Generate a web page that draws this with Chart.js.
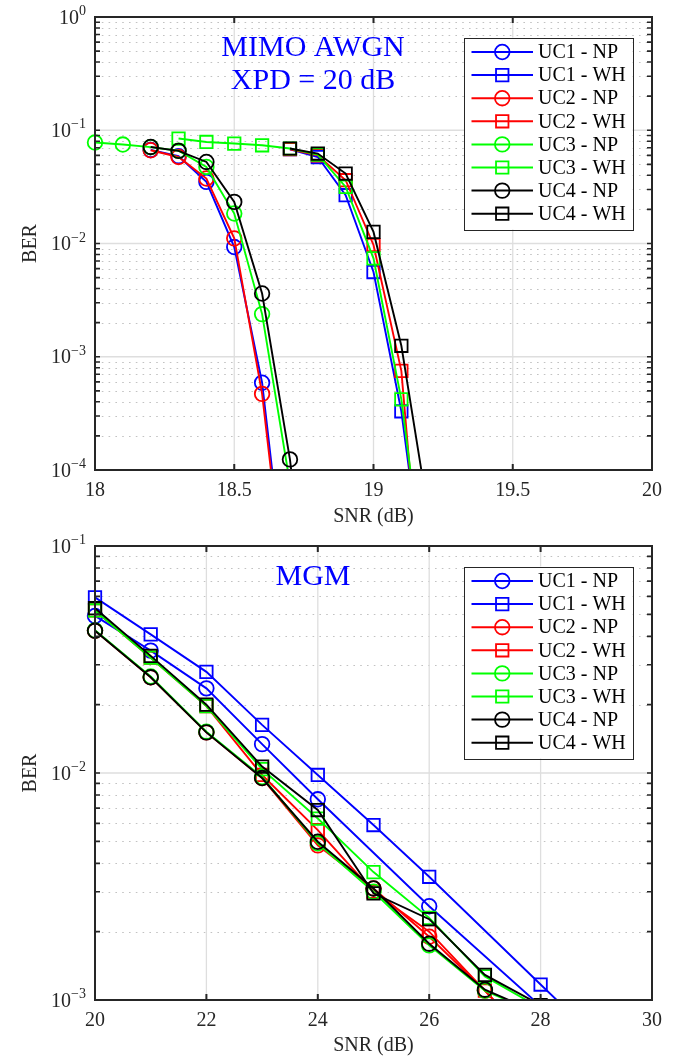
<!DOCTYPE html>
<html>
<head>
<meta charset="utf-8">
<title>BER vs SNR</title>
<script src="https://cdn.jsdelivr.net/npm/chart.js@4.4.1/dist/chart.umd.min.js"></script>
<style>
  html, body { margin: 0; padding: 0; background: #ffffff; }
  #wrap { position: relative; width: 686px; height: 1059px; overflow: hidden; }
  .panel { position: absolute; left: 0; width: 686px; }
  canvas { display: block; }
</style>
</head>
<body>
<div id="wrap">
  <div class="panel" style="top:0;height:530px"><canvas id="awgn" width="686" height="530"></canvas></div>
  <div class="panel" style="top:530px;height:529px"><canvas id="mgm" width="686" height="529"></canvas></div>
</div>
<script>
// ---------- series description ----------
const seriesNames   = ['UC1 - NP', 'UC1 - WH', 'UC2 - NP', 'UC2 - WH', 'UC3 - NP', 'UC3 - WH', 'UC4 - NP', 'UC4 - WH'];
const seriesColors  = ['#0000ff', '#0000ff', '#ff0000', '#ff0000', '#00ff00', '#00ff00', '#000000', '#000000'];
const seriesMarkers = ['circle', 'rect', 'circle', 'rect', 'circle', 'rect', 'circle', 'rect'];

// ---------- MIMO AWGN, XPD = 20 dB ----------
const snrAwgn = [18.0, 18.1, 18.2, 18.3, 18.4, 18.5, 18.6, 18.7, 18.8, 18.9, 19.0, 19.1, 19.2];
const uc1NpAwgn = [null, null, 0.067, 0.059, 0.035, 0.0093, 0.00059, 4.3e-6, null, null, null, null, null];
const uc1WhAwgn = [null, null, null, null, null, null, null, 0.068, 0.058, 0.0267, 0.0056, 0.00033, 4.5e-6];
const uc2NpAwgn = [null, null, 0.0666, 0.0581, 0.0375, 0.0111, 0.00047, 3.5e-6, null, null, null, null, null];
const uc2WhAwgn = [null, null, null, null, null, null, null, 0.068, 0.060, 0.0362, 0.0097, 0.00075, 1e-6];
const uc3NpAwgn = [0.0779, 0.0748, 0.071, 0.066, 0.0474, 0.0184, 0.00238, 7.6e-5, null, null, null, null, null];
const uc3WhAwgn = [null, null, null, 0.0845, 0.0788, 0.0763, 0.0737, 0.069, 0.061, 0.0316, 0.0074, 0.00042, 5e-6];
const uc4NpAwgn = [null, null, 0.0712, 0.0657, 0.0525, 0.0233, 0.00362, 0.000124, 1e-6, null, null, null, null];
const uc4WhAwgn = [null, null, null, null, null, null, null, 0.069, 0.0623, 0.0415, 0.01265, 0.00125, 3.7e-5];
const snrTicksAwgn = [18, 18.5, 19, 19.5, 20];
const berDecadesAwgn = [1e-4, 1e-3, 1e-2, 1e-1, 1];

// ---------- MGM ----------
const snrMgm = [20, 21, 22, 23, 24, 25, 26, 27, 28, 29];
const uc1NpMgm = [0.0492, 0.0346, 0.0236, 0.0134, 0.00766, null, 0.00259, null, 0.00094, null];
const uc1WhMgm = [0.0594, 0.0408, 0.0279, 0.0163, 0.0098, 0.0059, 0.00349, null, 0.00117, 0.00068];
const uc2NpMgm = [0.0423, 0.0264, 0.0151, 0.0095, 0.0048, 0.0031, 0.0019, 0.0011, 0.0006, null];
const uc2WhMgm = [0.052, 0.0322, 0.0197, 0.0098, 0.0056, 0.0030, 0.0020, 0.0011, 0.0006, null];
const uc3NpMgm = [0.0425, 0.0266, 0.0152, 0.0096, 0.0049, 0.0030, 0.00174, 0.0011, 0.00086, null];
const uc3WhMgm = [0.052, 0.0322, 0.0197, 0.0104, 0.0063, 0.00366, 0.0023, 0.00127, 0.00092, null];
const uc4NpMgm = [0.0423, 0.0264, 0.0151, 0.0095, 0.00498, 0.0031, 0.00177, 0.00111, 0.00087, null];
const uc4WhMgm = [0.0532, 0.0328, 0.0200, 0.01067, 0.00687, 0.00295, 0.00227, 0.00129, 0.00095, null];
const snrTicksMgm = [20, 22, 24, 26, 28, 30];
const berDecadesMgm = [1e-3, 1e-2, 1e-1];

// ---------- look ----------
const SERIF = "'Liberation Serif', 'Times New Roman', 'DejaVu Serif', serif";
const INK = '#262626';

function buildDatasets(xs, columns) {
  return columns.map((vals, i) => ({
    label: seriesNames[i],
    data: xs.map((x, k) => ({ x: x, y: vals[k] })),
    borderColor: seriesColors[i],
    backgroundColor: 'rgba(0,0,0,0)',
    borderWidth: 1.9,
    pointStyle: seriesMarkers[i],
    pointRadius: seriesMarkers[i] === 'circle' ? 7.3 : 8.8,
    pointHoverRadius: seriesMarkers[i] === 'circle' ? 7.3 : 8.8,
    pointBorderWidth: 1.8,
    pointBackgroundColor: 'rgba(0,0,0,0)',
    pointBorderColor: seriesColors[i],
    tension: 0,
    spanGaps: true,
    order: columns.length - i,          // later series sit on top
    clip: { left: 12, top: 12, right: 12, bottom: 0 }
  }));
}

// Grid, frame with inward ticks, power-of-ten labels, in-axes legend and caption
const panelDecor = {
  id: 'panelDecor',
  beforeDatasetsDraw(chart) {
    const { ctx, chartArea: a, scales: { x, y } } = chart;
    const e0 = Math.round(Math.log10(y.min)), e1 = Math.round(Math.log10(y.max));
    ctx.save();
    ctx.lineWidth = 1;
    ctx.strokeStyle = '#c2c2c2';
    ctx.setLineDash([1.6, 5.2]);
    for (let e = e0; e < e1; e++) {
      for (let m = 2; m <= 9; m++) {
        const py = Math.round(y.getPixelForValue(m * Math.pow(10, e))) + 0.5;
        ctx.beginPath(); ctx.moveTo(a.left, py); ctx.lineTo(a.right, py); ctx.stroke();
      }
    }
    ctx.setLineDash([]);
    ctx.strokeStyle = '#dedede';
    ctx.lineWidth = 1.3;
    for (let e = e0; e <= e1; e++) {
      const py = y.getPixelForValue(Math.pow(10, e));
      ctx.beginPath(); ctx.moveTo(a.left, py); ctx.lineTo(a.right, py); ctx.stroke();
    }
    x.ticks.forEach(t => {
      const px = x.getPixelForValue(t.value);
      ctx.beginPath(); ctx.moveTo(px, a.top); ctx.lineTo(px, a.bottom); ctx.stroke();
    });
    ctx.restore();
  },
  afterDatasetsDraw(chart) {
    const { ctx, chartArea: a, scales: { x, y } } = chart;
    const e0 = Math.round(Math.log10(y.min)), e1 = Math.round(Math.log10(y.max));
    ctx.save();
    ctx.strokeStyle = INK;
    ctx.lineWidth = 1.6;
    for (let e = e0; e < e1; e++) {
      for (let m = 1; m <= 9; m++) {
        const py = y.getPixelForValue(m * Math.pow(10, e));
        ctx.beginPath();
        ctx.moveTo(a.left, py); ctx.lineTo(a.left + 5, py);
        ctx.moveTo(a.right, py); ctx.lineTo(a.right - 5, py);
        ctx.stroke();
      }
    }
    ctx.lineWidth = 2;
    x.ticks.forEach(t => {
      const px = x.getPixelForValue(t.value);
      ctx.beginPath();
      ctx.moveTo(px, a.bottom); ctx.lineTo(px, a.bottom - 6);
      ctx.moveTo(px, a.top); ctx.lineTo(px, a.top + 6);
      ctx.stroke();
    });
    ctx.lineWidth = 2;
    ctx.strokeRect(a.left, a.top, a.right - a.left, a.bottom - a.top);
    ctx.restore();
  },
  afterDraw(chart, args, opts) {
    const { ctx, chartArea: a, scales: { y } } = chart;
    ctx.save();
    // y tick labels as 10 with a raised exponent
    ctx.fillStyle = INK;
    ctx.textBaseline = 'alphabetic';
    ctx.textAlign = 'left';
    y.ticks.forEach(t => {
      const py = y.getPixelForValue(t.value);
      const exp = String(Math.round(Math.log10(t.value))).replace('-', '\u2212');
      ctx.font = '14px ' + SERIF;
      const ew = ctx.measureText(exp).width;
      ctx.font = '20px ' + SERIF;
      const bw = ctx.measureText('10').width;
      const right = a.left - 9;
      ctx.fillText('10', right - ew - bw, py + 6.5);
      ctx.font = '14px ' + SERIF;
      ctx.fillText(exp, right - ew, py - 2);
    });
    // caption
    ctx.fillStyle = '#0000ff';
    ctx.font = '30px ' + SERIF;
    ctx.textAlign = 'center';
    opts.caption.forEach((line, i) => {
      ctx.fillText(line, a.left + opts.captionX, a.top + opts.captionBaseline + i * opts.captionGap);
    });
    // legend
    const lg = opts.legend;
    const bx = a.right - lg.right - lg.width, by = a.top + lg.top;
    ctx.fillStyle = '#ffffff';
    ctx.fillRect(bx, by, lg.width, lg.height);
    ctx.strokeStyle = INK;
    ctx.lineWidth = 1;
    ctx.strokeRect(Math.round(bx) + 0.5, Math.round(by) + 0.5, Math.round(lg.width), Math.round(lg.height));
    ctx.font = '20px ' + SERIF;
    ctx.textAlign = 'left';
    ctx.textBaseline = 'middle';
    chart.data.datasets.forEach((ds, i) => {
      const cy = by + lg.firstRow + i * lg.rowGap;
      ctx.strokeStyle = ds.borderColor;
      ctx.lineWidth = 2;
      ctx.beginPath();
      ctx.moveTo(bx + lg.lineStart, cy); ctx.lineTo(bx + lg.lineEnd, cy);
      ctx.stroke();
      const cx = (bx + lg.lineStart + bx + lg.lineEnd) / 2;
      ctx.lineWidth = 1.8;
      ctx.beginPath();
      if (ds.pointStyle === 'circle') {
        ctx.arc(cx, cy, ds.pointRadius, 0, Math.PI * 2);
      } else {
        const h = ds.pointRadius * Math.SQRT1_2;
        ctx.rect(cx - h, cy - h, 2 * h, 2 * h);
      }
      ctx.stroke();
      ctx.fillStyle = '#000000';
      ctx.fillText(ds.label, bx + lg.textStart, cy + 1);
    });
    ctx.restore();
  }
};

const legendBox = { right: 19.5, top: 20.5, width: 168.5, height: 192,
                    firstRow: 14.5, rowGap: 23.1, lineStart: 7.5, lineEnd: 69, textStart: 74 };

function makeChart(canvasId, xs, columns, xMin, xMax, xTicks, yDecades, caption, xAxisHeight, padTop) {
  return new Chart(document.getElementById(canvasId), {
    type: 'line',
    data: { datasets: buildDatasets(xs, columns) },
    plugins: [panelDecor],
    options: {
      responsive: false,
      animation: false,
      events: [],
      layout: { padding: { top: padTop, right: 34, bottom: 0, left: 0 } },
      plugins: {
        legend: { display: false },
        tooltip: { enabled: false },
        panelDecor: {
          caption: caption, captionX: 218, captionBaseline: 38.5, captionGap: 33.3,
          legend: legendBox
        }
      },
      scales: {
        x: {
          type: 'linear',
          min: xMin, max: xMax,
          afterBuildTicks: s => { s.ticks = xTicks.map(v => ({ value: v })); },
          afterFit: s => { s.height = xAxisHeight; },
          ticks: {
            font: { family: SERIF, size: 20 }, color: INK, padding: 9,
            maxRotation: 0, autoSkip: false,
            callback: v => String(v)
          },
          grid: { display: false, drawTicks: false },
          border: { display: false },
          title: {
            display: true, text: 'SNR (dB)', color: INK,
            font: { family: SERIF, size: 20 }, padding: { top: 0, bottom: 1 }
          }
        },
        y: {
          type: 'logarithmic',
          min: yDecades[0], max: yDecades[yDecades.length - 1],
          afterBuildTicks: s => { s.ticks = yDecades.map(v => ({ value: v })); },
          afterFit: s => { s.width = 95; },
          ticks: { display: false },
          grid: { display: false, drawTicks: false },
          border: { display: false },
          title: {
            display: true, text: 'BER', color: INK,
            font: { family: SERIF, size: 20 }, padding: { top: 19, bottom: 0 }
          }
        }
      }
    }
  });
}

makeChart('awgn', snrAwgn,
  [uc1NpAwgn, uc1WhAwgn, uc2NpAwgn, uc2WhAwgn, uc3NpAwgn, uc3WhAwgn, uc4NpAwgn, uc4WhAwgn],
  18, 20, snrTicksAwgn, berDecadesAwgn, ['MIMO AWGN', 'XPD = 20 dB'], 60, 17);

makeChart('mgm', snrMgm,
  [uc1NpMgm, uc1WhMgm, uc2NpMgm, uc2WhMgm, uc3NpMgm, uc3WhMgm, uc4NpMgm, uc4WhMgm],
  20, 30, snrTicksMgm, berDecadesMgm, ['MGM'], 59, 16);
</script>
</body>
</html>
